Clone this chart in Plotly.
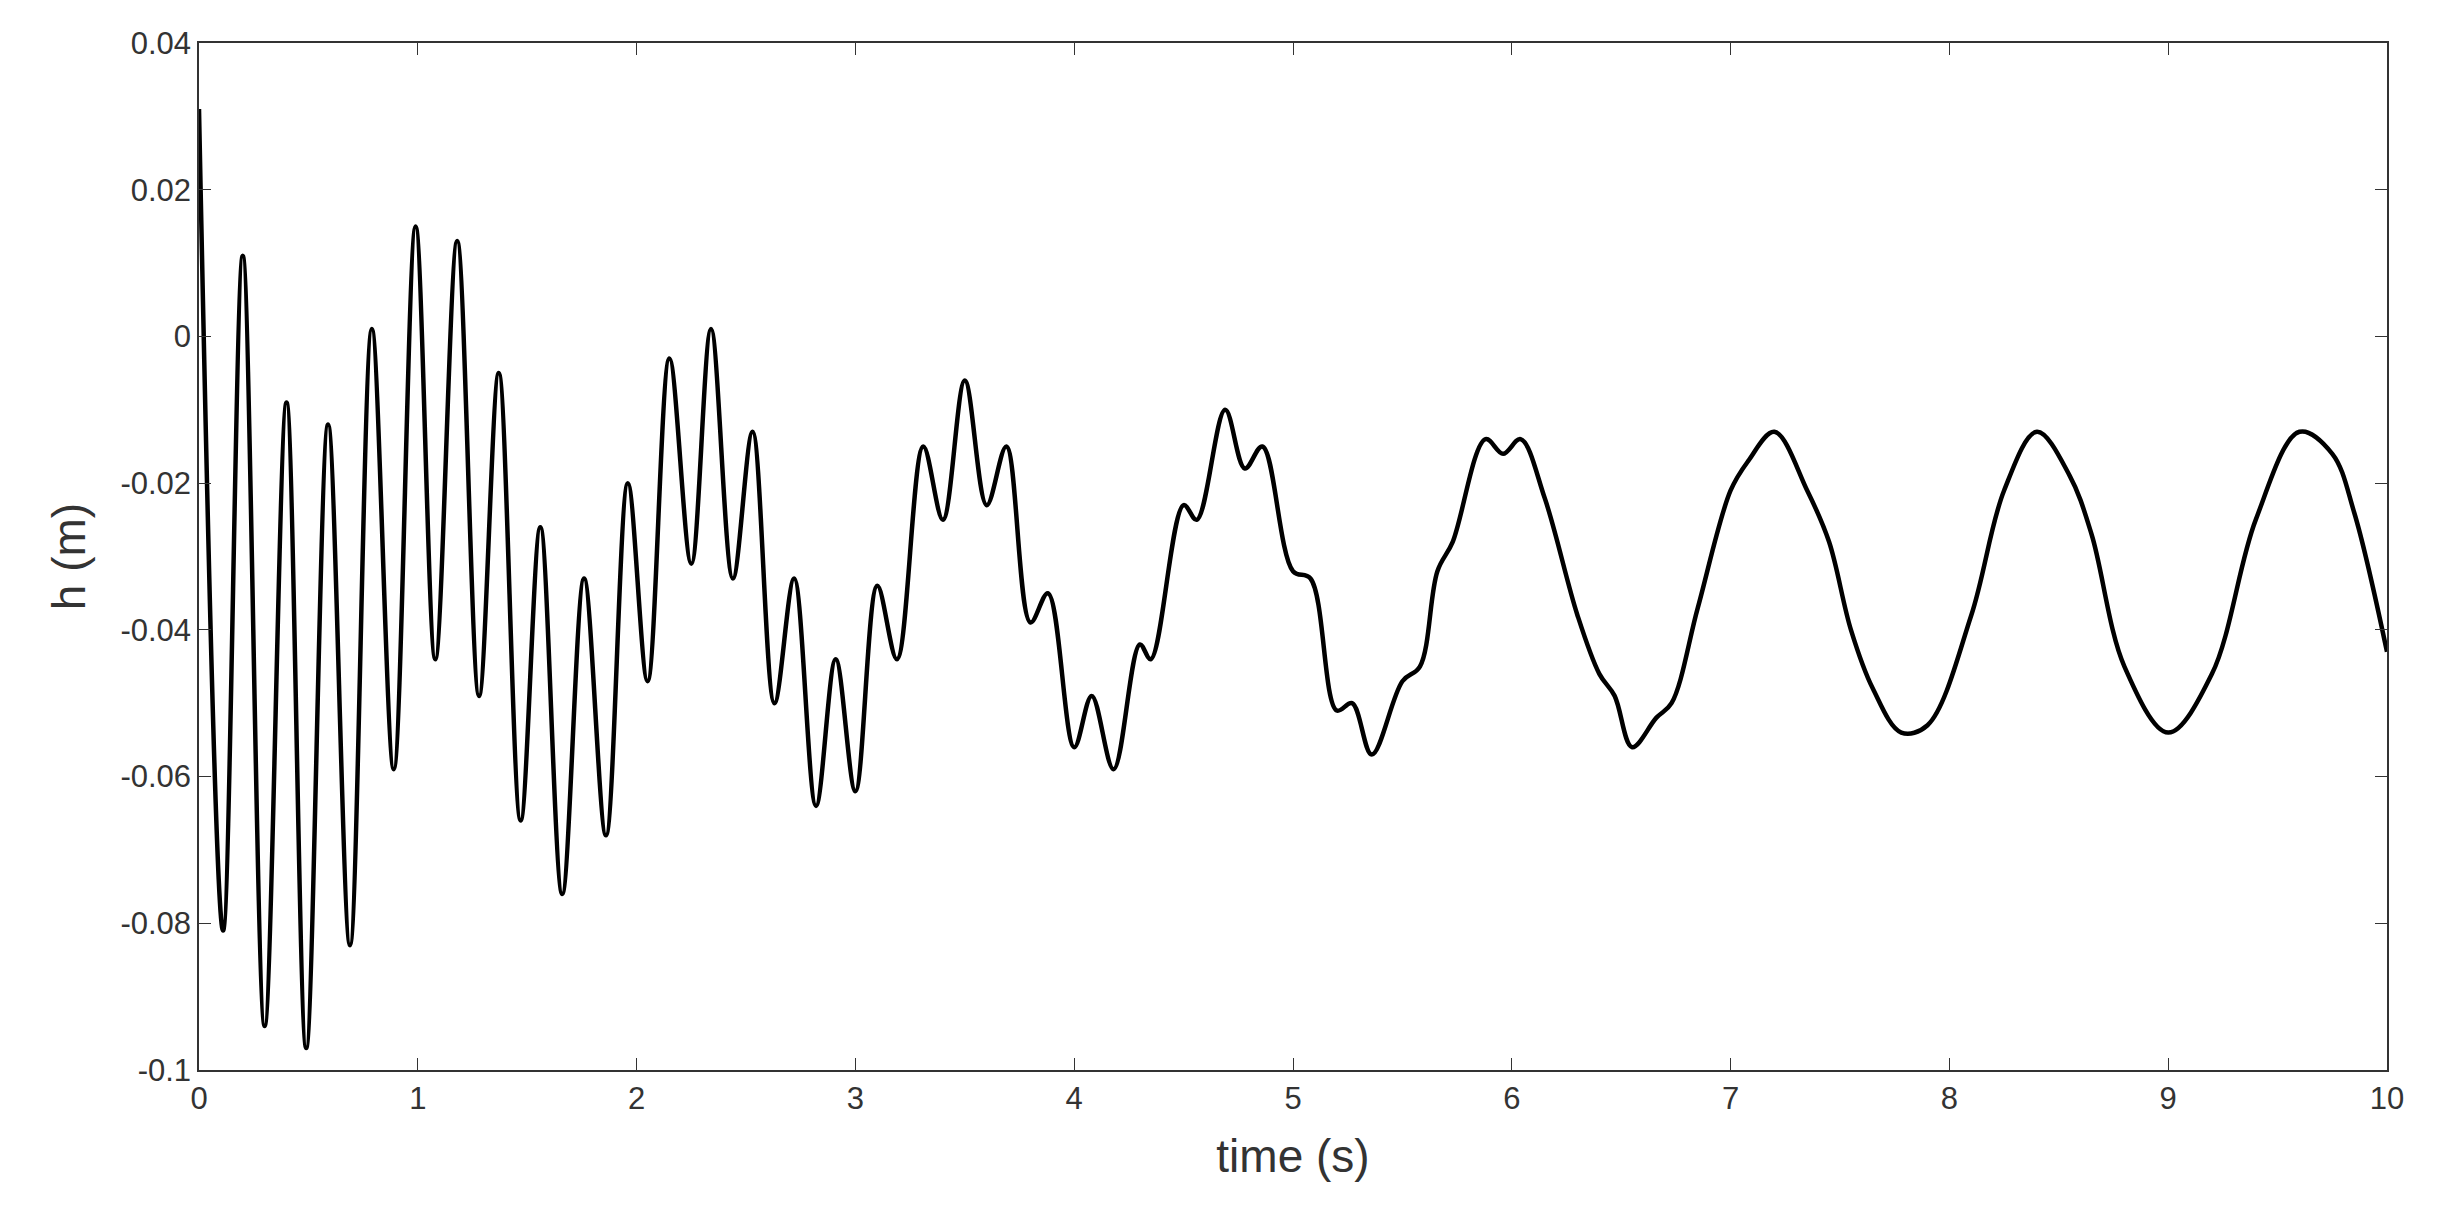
import plotly.graph_objects as go

t = [0,0.11,0.2,0.3,0.4,0.49,0.59,0.69,0.79,0.89,0.99,1.08,1.18,1.28,1.37,1.47,1.56,1.66,1.76,1.86,1.96,2.05,2.15,2.25,2.34,2.44,2.53,2.63,2.72,2.82,2.91,3.0,3.1,3.19,3.31,3.4,3.5,3.6,3.69,3.8,3.88,4.0,4.08,4.18,4.3,4.35,4.5,4.56,4.69,4.78,4.86,5.0,5.08,5.2,5.27,5.36,5.5,5.58,5.66,5.73,5.88,5.96,6.04,6.15,6.3,6.4,6.47,6.55,6.66,6.73,6.85,7.0,7.08,7.2,7.35,7.45,7.55,7.65,7.78,7.9,8.1,8.25,8.4,8.55,8.65,8.8,9.0,9.2,9.4,9.6,9.75,9.85,10.0]
h = [0.031,-0.081,0.011,-0.094,-0.009,-0.097,-0.012,-0.083,0.001,-0.059,0.015,-0.044,0.013,-0.049,-0.005,-0.066,-0.026,-0.076,-0.033,-0.068,-0.020,-0.047,-0.003,-0.031,0.001,-0.033,-0.013,-0.050,-0.033,-0.064,-0.044,-0.062,-0.034,-0.044,-0.015,-0.025,-0.006,-0.023,-0.015,-0.039,-0.035,-0.056,-0.049,-0.059,-0.042,-0.044,-0.023,-0.025,-0.010,-0.018,-0.015,-0.032,-0.033,-0.051,-0.050,-0.057,-0.047,-0.045,-0.032,-0.028,-0.014,-0.016,-0.014,-0.022,-0.038,-0.046,-0.049,-0.056,-0.052,-0.050,-0.037,-0.021,-0.017,-0.013,-0.021,-0.028,-0.040,-0.048,-0.054,-0.053,-0.038,-0.021,-0.013,-0.019,-0.027,-0.045,-0.054,-0.046,-0.025,-0.013,-0.016,-0.024,-0.043]

yticks = [-0.1,-0.08,-0.06,-0.04,-0.02,0,0.02,0.04]
ylabels = ["-0.1","-0.08","-0.06","-0.04","-0.02","0","0.02","0.04"]

fig = go.Figure(go.Scatter(x=t, y=h, mode="lines", line=dict(color="black", width=4.5, shape="spline", smoothing=1.0)))
ax = dict(showgrid=False, zeroline=False, showline=True, mirror="ticks", linecolor="#333", linewidth=1.5,
          ticks="inside", ticklen=12, tickcolor="#333", tickfont=dict(size=31, color="#333", family="Liberation Sans"))
fig.update_layout(width=2446, height=1227, plot_bgcolor="white", paper_bgcolor="white", showlegend=False,
                  margin=dict(l=191, r=67, t=35, b=165),
                  xaxis=dict(ax, range=[0,10], dtick=1, title=dict(text="time (s)", standoff=25, font=dict(size=46, color="#333", family="Liberation Sans"))),
                  yaxis=dict(ax, range=[-0.1,0.04], tickvals=yticks, ticktext=ylabels, title=dict(text="h (m)", standoff=20, font=dict(size=46, color="#333", family="Liberation Sans"))))
fig.write_html("out.html")
